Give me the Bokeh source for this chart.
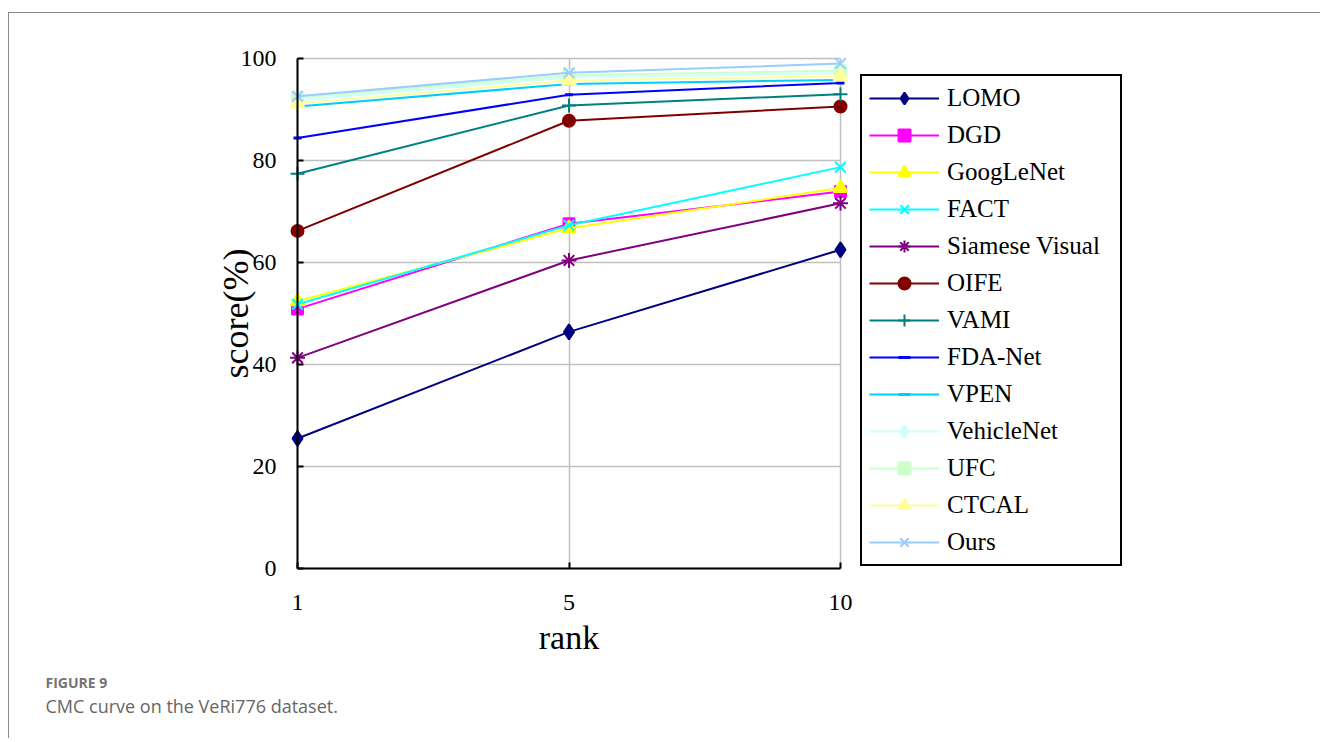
from bokeh.plotting import figure
from bokeh.models import Range1d, FixedTicker, Label
from bokeh.embed import file_html
from bokeh.resources import INLINE

# ---- data ----
ranks = ["1", "5", "10"]
y_ticks = [0, 20, 40, 60, 80, 100]

methods = ["LOMO", "DGD", "GoogLeNet", "FACT", "Siamese Visual", "OIFE", "VAMI",
           "FDA-Net", "VPEN", "VehicleNet", "UFC", "CTCAL", "Ours"]
lomo = [25.5, 46.4, 62.5]
dgd = [50.9, 67.6, 73.9]
googlenet = [52.4, 66.7, 74.6]
fact = [51.8, 67.3, 78.7]
siamese = [41.3, 60.4, 71.6]
oife = [66.2, 87.8, 90.6]
vami = [77.4, 90.8, 93.0]
fdanet = [84.4, 92.9, 95.2]
vpen = [90.6, 95.0, 95.8]
vehiclenet = [91.8, 96.3, 97.1]
ufc = [92.3, 96.7, 97.6]
ctcal = [91.2, 95.7, 96.5]
ours = [92.6, 97.2, 99.0]
series = [lomo, dgd, googlenet, fact, siamese, oife, vami, fdanet, vpen,
          vehiclenet, ufc, ctcal, ours]

colors = ["#000080", "#FF00FF", "#FFFF00", "#00FFFF", "#800080", "#800000", "#008080",
          "#0000FF", "#00CCFF", "#CCFFFF", "#CCFFCC", "#FFFF99", "#99CCFF"]
markers = ["diamond", "square", "triangle", "x", "asterisk", "circle", "cross",
           "dash", "dash", "diamond", "square", "triangle", "x"]
sizes = [15, 11, 14, 15, 15, 12, 14, 8, 8, 15, 11, 14, 15]

x_pos = list(range(len(ranks)))
FONT = "Liberation Serif"

# ---- layout constants (canvas pixels) ----
W, H = 1312, 726
X0, XSTEP = 288.0, 271.5      # canvas x of first rank, px per rank step
Y0, YSTEP = 555.0, 5.1        # canvas y (from top) of score 0, px per score unit
xs = -X0 / XSTEP
xe = (W - X0) / XSTEP
ys = -(H - Y0) / YSTEP
ye = ys + H / YSTEP

p = figure(width=W, height=H, output_backend="svg", toolbar_location=None,
           x_range=Range1d(xs, xe), y_range=Range1d(ys, ye),
           min_border=0, min_border_left=0, min_border_right=0,
           min_border_top=0, min_border_bottom=0)
p.outline_line_color = None
p.styles = {"margin-left": "8px", "margin-top": "12px",
            "border-top": "1px solid #8c8c8c", "border-left": "1px solid #8c8c8c"}

# axes
xa = p.xaxis[0]
xa.fixed_location = 0
xa.bounds = (0, 2)
xa.ticker = FixedTicker(ticks=x_pos)
xa.major_label_overrides = {i: r for i, r in enumerate(ranks)}
ya = p.yaxis[0]
ya.fixed_location = 0
ya.bounds = (0, 100)
ya.ticker = FixedTicker(ticks=y_ticks)
for ax in (xa, ya):
    ax.axis_line_color = "black"
    ax.axis_line_width = 2
    ax.major_tick_in = 6
    ax.major_tick_out = 0
    ax.major_tick_line_width = 2
    ax.minor_tick_line_color = None
    ax.major_label_text_font = FONT
    ax.major_label_text_font_size = "24px"
    ax.major_label_text_color = "black"
    ax.axis_label_text_font = FONT
    ax.axis_label_text_font_style = "normal"
    ax.axis_label_text_color = "black"
xa.major_label_standoff = 26
xa.axis_label = "rank"
xa.axis_label_text_font_size = "34px"
xa.axis_label_standoff = 6
ya.major_label_standoff = 21
ya.axis_label = "score(%)"
ya.axis_label_text_font_size = "36px"
ya.axis_label_standoff = -18

# grids
p.xgrid.grid_line_color = "#BFBFBF"
p.xgrid.grid_line_width = 1.5
p.xgrid.cross_bounds = (0, 100)
p.ygrid.grid_line_color = "#BFBFBF"
p.ygrid.grid_line_width = 1.5
p.ygrid.cross_bounds = (0, 2)

for name, vals, c, m, s in zip(methods, series, colors, markers, sizes):
    p.line(x_pos, vals, line_color=c, line_width=2, legend_label=name)
    lw = 3 if m == "dash" else 2
    p.scatter(x_pos, vals, marker=m, size=s, fill_color=c, line_color=c,
              line_width=lw, legend_label=name)

leg = p.legend[0]
leg.location = (851, 173)
leg.border_line_color = "black"
leg.border_line_alpha = 1.0
leg.border_line_width = 2
leg.background_fill_color = "white"
leg.background_fill_alpha = 1
leg.padding = 7
leg.margin = 0
leg.spacing = 7
leg.glyph_width = 70
leg.glyph_height = 30
leg.label_height = 30
leg.label_width = 166
leg.label_standoff = 8
leg.label_text_font = FONT
leg.label_text_font_size = "25px"
leg.label_text_color = "black"

p.add_layout(Label(x=36, y=48, x_units="screen", y_units="screen",
                   text="FIGURE 9", text_font="Open Sans", text_font_size="14px",
                   text_font_style="bold", text_color="#737373"))
p.add_layout(Label(x=36, y=22, x_units="screen", y_units="screen",
                   text="CMC curve on the VeRi776 dataset.", text_font="Open Sans",
                   text_font_size="18px", text_color="#666666"))

open("out.html", "w").write(file_html(p, INLINE))
